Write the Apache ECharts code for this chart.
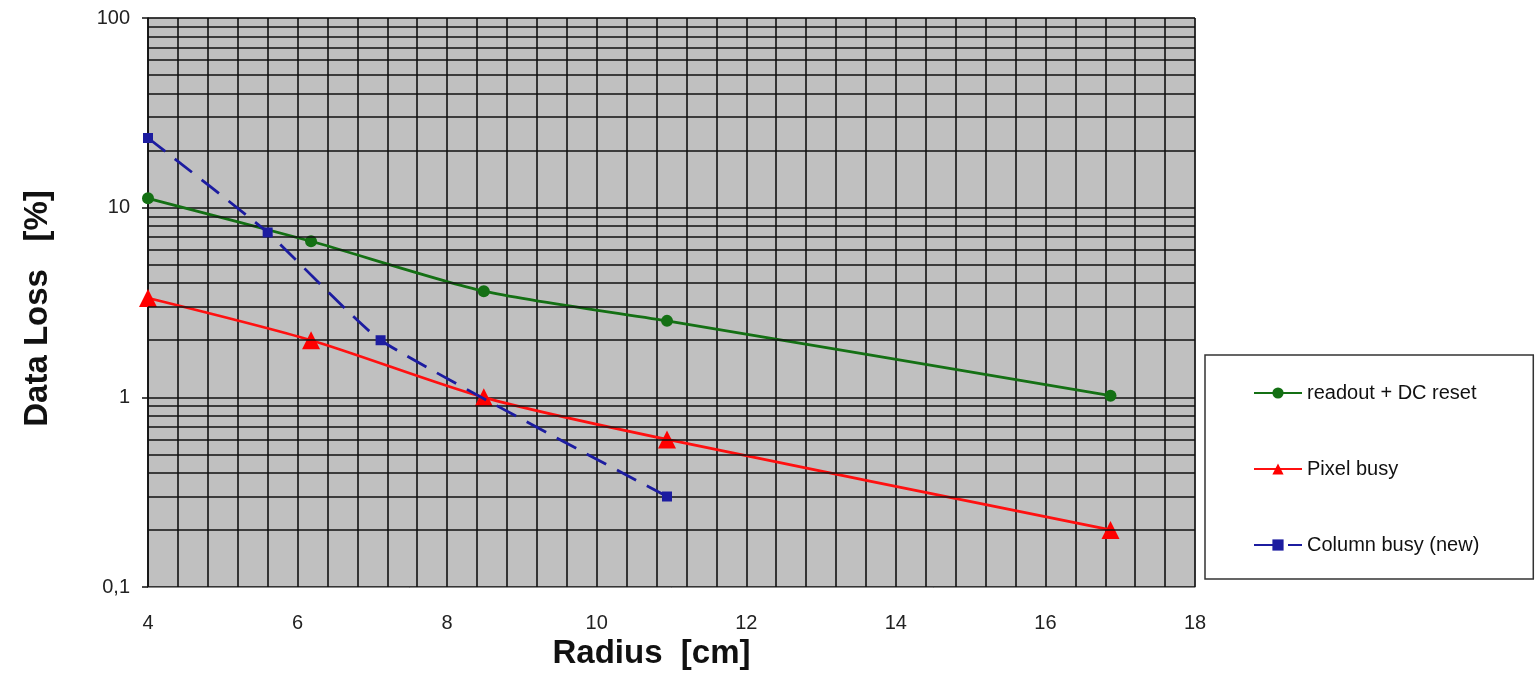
<!DOCTYPE html>
<html>
<head>
<meta charset="utf-8">
<script src="https://cdn.jsdelivr.net/npm/echarts@6/dist/echarts.min.js"></script>
<style>html,body{margin:0;padding:0;background:#fff}#c{width:1535px;height:678px}</style>
</head>
<body>
<div id="c"></div>
<script>
const seriesNames = ['readout + DC reset', 'Pixel busy', 'Column busy (new)'];
const readoutX = [4, 6.18, 8.49, 10.94, 16.87];
const readoutY = [11.2, 6.65, 3.63, 2.53, 1.02];
const pixelX = [4, 6.18, 8.49, 10.94, 16.87];
const pixelY = [3.34, 2.0, 1.0, 0.60, 0.20];
const columnX = [4, 5.6, 7.11, 10.94];
const columnY = [23.3, 7.4, 2.0, 0.30];
const xTicks = [4, 6, 8, 10, 12, 14, 16, 18];
const yTicks = [0.1, 1, 10, 100];
const yMinorGrid = [0.2,0.3,0.4,0.5,0.6,0.7,0.8,0.9,2,3,4,5,6,7,8,9,20,30,40,50,60,70,80,90];

const pair = (xs, ys) => xs.map((x, i) => [x, ys[i]]);
const font = '"Liberation Sans", Arial, sans-serif';
const gridColor = '#111';

const chart = echarts.init(document.getElementById('c'));
chart.setOption({
  animation: false,
  backgroundColor: '#fff',
  grid: { left: 148, right: 340, top: 18, bottom: 91, show: true, backgroundColor: '#c0c0c0', borderColor: '#8a8a8a', borderWidth: 1 },
  legend: {
    orient: 'vertical', left: 1205, top: 355,
    padding: [28, 54, 24, 48], itemGap: 56,
    itemWidth: 48, itemHeight: 14,
    backgroundColor: '#fff', borderColor: '#333', borderWidth: 1.5,
    textStyle: { fontFamily: font, fontSize: 20, color: '#111' },
    data: seriesNames
  },
  xAxis: {
    type: 'value', min: xTicks[0], max: xTicks[xTicks.length - 1], interval: 2,
    name: 'Radius  [cm]', nameLocation: 'middle', nameGap: 41,
    nameTextStyle: { fontFamily: font, fontSize: 33, fontWeight: 'bold', color: '#111', padding: [0, 40, 0, 0] },
    axisLine: { show: true, onZero: false, lineStyle: { color: '#8a8a8a', width: 1 } },
    axisTick: { show: false },
    axisLabel: { fontFamily: font, fontSize: 20, color: '#222', margin: 26 },
    splitLine: { show: true, lineStyle: { color: gridColor, width: 1.6 } },
    minorTick: { show: false, splitNumber: 5 },
    minorSplitLine: { show: true, lineStyle: { color: gridColor, width: 1.6 } }
  },
  yAxis: {
    type: 'log', logBase: 10, min: yTicks[0], max: yTicks[yTicks.length - 1],
    name: 'Data Loss   [%]', nameLocation: 'middle', nameGap: 94,
    nameTextStyle: { fontFamily: font, fontSize: 33, fontWeight: 'bold', color: '#111', padding: [0, 12, 0, 0] },
    axisLine: { show: true, lineStyle: { color: '#111', width: 1.5 } },
    axisTick: { show: true, inside: false, length: 6, lineStyle: { color: '#111', width: 1.5 } },
    axisLabel: { fontFamily: font, fontSize: 20, color: '#222', margin: 18,
      formatter: v => String(v).replace('.', ',') },
    splitLine: { show: true, lineStyle: { color: gridColor, width: 1.6 } },
    minorSplitLine: { show: false }
  },
  series: [
    {
      name: 'grid', type: 'line', data: [], z: 1, silent: true,
      markLine: {
        silent: true, symbol: 'none', label: { show: false }, animation: false,
        lineStyle: { color: gridColor, width: 1.6, type: 'solid' },
        data: yMinorGrid.map(v => ({ yAxis: v }))
      }
    },
    {
      name: seriesNames[0], type: 'line', data: pair(readoutX, readoutY),
      smooth: 0.25, symbol: 'circle', symbolSize: 12,
      itemStyle: { color: '#147014' }, lineStyle: { color: '#147014', width: 2.8 }, z: 3
    },
    {
      name: seriesNames[1], type: 'line', data: pair(pixelX, pixelY),
      smooth: 0.25, symbol: 'triangle', symbolSize: 18,
      itemStyle: { color: '#ff0000' }, lineStyle: { color: '#ff1010', width: 2.8 }, z: 4
    },
    {
      name: seriesNames[2], type: 'line', data: pair(columnX, columnY),
      smooth: 0.15, symbol: 'rect', symbolSize: 10,
      itemStyle: { color: '#1c1ca0' }, lineStyle: { color: '#1c1ca0', width: 2.8, type: [22, 12] }, z: 5
    }
  ]
});
</script>
</body>
</html>
